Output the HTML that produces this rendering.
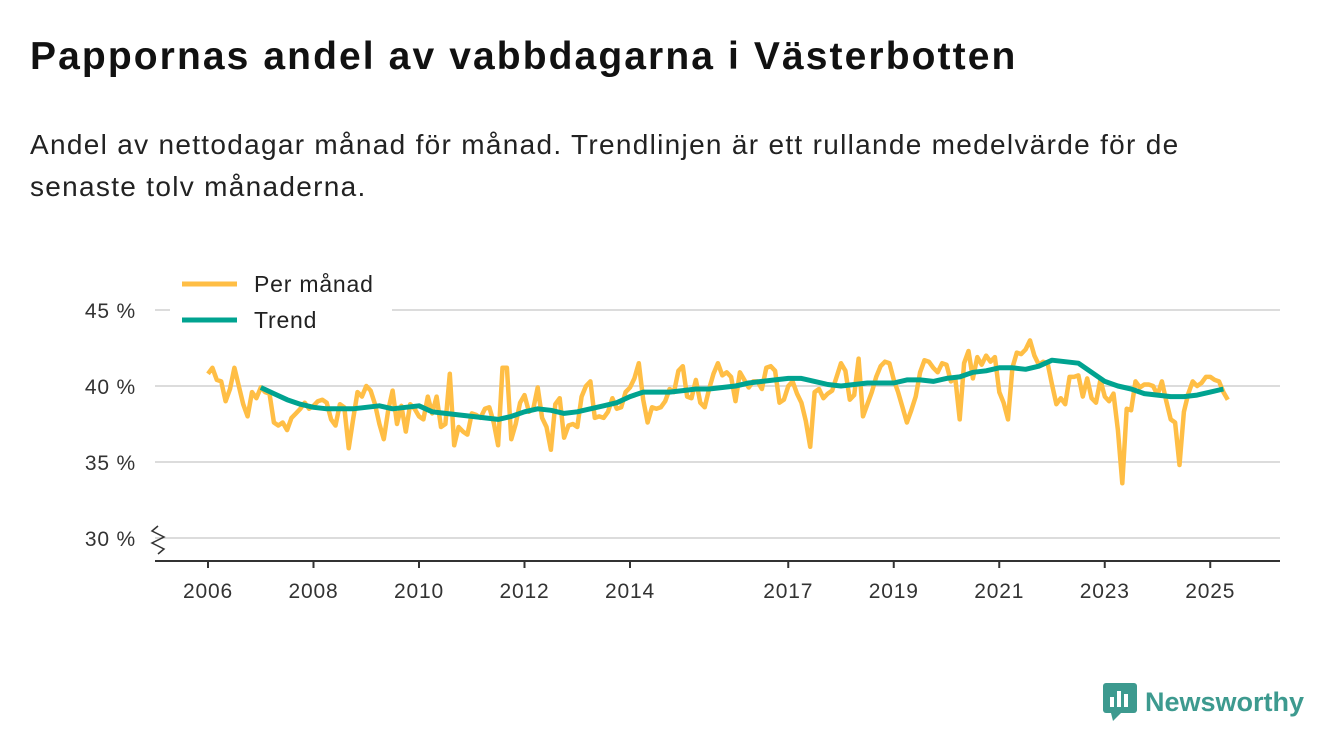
<!DOCTYPE html>
<html><head><meta charset="utf-8">
<style>
body{margin:0;width:1340px;height:753px;background:#fff;font-family:"Liberation Sans","DejaVu Sans",sans-serif;overflow:hidden;position:relative;color:#111}
h1{position:absolute;left:30px;top:35px;margin:0;font-size:39px;font-weight:bold;letter-spacing:2.1px;white-space:nowrap}
p.sub{position:absolute;left:30px;top:124px;margin:0;font-size:28px;line-height:42px;color:#222;width:1250px;letter-spacing:1.3px}
svg{position:absolute;left:0;top:0}
</style></head><body>
<h1>Pappornas andel av vabbdagarna i Västerbotten</h1>
<p class="sub">Andel av nettodagar månad för månad. Trendlinjen är ett rullande medelvärde för de senaste tolv månaderna.</p>
<svg id="chart" width="1340" height="753"></svg>
<div style="position:absolute;left:1103px;top:683px;display:flex;align-items:center">
<svg width="34" height="38" style="position:static"><rect x="0" y="0" width="34" height="30" rx="3" fill="#3d9a8f"/><polygon points="8,30 18,30 10,38" fill="#3d9a8f"/><rect x="7" y="14" width="4" height="10" fill="#fff"/><rect x="14" y="8" width="4" height="16" fill="#fff"/><rect x="21" y="11" width="4" height="13" fill="#fff"/></svg>
<span style="font-size:27px;font-weight:bold;color:#3d9a8f;margin-left:8px">Newsworthy</span></div>
<script>
const monthly=[
40.8,41.2,40.4,40.3,39.0,39.8,41.2,40.0,38.8,38.0,39.6,39.2,
39.9,39.6,39.5,37.6,37.4,37.6,37.1,37.9,38.2,38.5,38.9,38.5,
38.7,39.0,39.1,38.9,37.8,37.4,38.8,38.6,35.9,37.8,39.6,39.3,
40.0,39.7,38.8,37.5,36.5,38.4,39.7,37.5,38.7,37.0,38.8,38.5,
38.0,37.8,39.3,38.2,39.3,37.3,37.5,40.8,36.1,37.3,37.0,36.8,
38.2,38.1,37.9,38.5,38.6,37.6,36.1,41.2,41.2,36.5,37.5,38.9,
39.4,38.3,38.5,39.9,37.9,37.3,35.8,38.8,39.2,36.6,37.4,37.5,
37.3,39.3,40.0,40.3,37.9,38.0,37.9,38.3,39.2,38.5,38.6,39.6,
39.9,40.5,41.5,39.1,37.6,38.6,38.5,38.6,39.0,39.8,39.6,41.0,
41.3,39.3,39.2,40.4,38.9,38.6,39.8,40.8,41.5,40.7,40.9,40.6,
39.0,40.9,40.4,39.9,40.3,40.3,39.8,41.2,41.3,41.0,38.9,39.1,
40.0,40.3,39.5,38.9,37.7,36.0,39.6,39.8,39.2,39.5,39.7,40.6,
41.5,41.0,39.1,39.4,41.8,38.0,38.8,39.6,40.6,41.3,41.6,41.5,
40.4,39.6,38.6,37.6,38.4,39.3,40.9,41.7,41.6,41.2,40.9,41.5,
41.4,40.3,40.5,37.8,41.5,42.3,40.5,41.9,41.4,42.0,41.6,41.9,
39.6,38.9,37.8,41.2,42.2,42.1,42.4,43.0,42.0,41.4,41.6,41.5,
40.1,38.8,39.2,38.8,40.6,40.6,40.7,39.3,40.5,39.2,38.9,40.4,
39.3,39.0,39.5,37.1,33.6,38.5,38.4,40.3,39.9,40.1,40.1,40.0,
39.4,40.3,39.0,37.8,37.6,34.8,38.3,39.5,40.3,40.0,40.2,40.6,
40.6,40.4,40.3,39.6,39.1];
const trendStart=2007;
const trend=[39.9,39.5,39.1,38.8, 38.6,38.5,38.5,38.5, 38.6,38.7,38.5,38.6, 38.7,38.3,38.2,38.1,
38.0,37.9,37.8,38.0, 38.3,38.5,38.4,38.2, 38.3,38.5,38.7,38.9, 39.3,39.6,39.6,39.6,
39.7,39.8,39.8,39.9, 40.0,40.2,40.3,40.4, 40.5,40.5,40.3,40.1, 40.0,40.1,40.2,40.2,
40.2,40.4,40.4,40.3, 40.5,40.6,40.9,41.0, 41.2,41.2,41.1,41.3, 41.7,41.6,41.5,40.9,
40.3,40.0,39.8,39.5, 39.4,39.3,39.3,39.4, 39.6,39.8];
const yTicks=[30,35,40,45];
const xTicks=[2006,2008,2010,2012,2014,2017,2019,2021,2023,2025];
const NS='http://www.w3.org/2000/svg';
const svg=document.getElementById('chart');
const X=t=>208+(t-2006)*52.75;
const Y=v=>386-(v-40)*15.2;
function mk(tag,attrs){const e=document.createElementNS(NS,tag);for(const k in attrs)e.setAttribute(k,attrs[k]);svg.appendChild(e);return e;}
yTicks.forEach(v=>{
 const g=mk('line',{x1:155,x2:1280,y1:Y(v),y2:Y(v),stroke:'#dcdcdc','stroke-width':2});
 
 
 const t=mk('text',{x:136,y:Y(v)+8,'text-anchor':'end','font-size':21,fill:'#333','letter-spacing':'0.8','font-family':'Liberation Sans, sans-serif'});
 t.textContent=v+' %';
 
 
});
const ax=mk('line',{x1:155,x2:1280,y1:561,y2:561,stroke:'#333','stroke-width':2});


const zz=mk('polyline',{points:'158,526 152,531 164,537 152,543 164,549 158,554',fill:'none',stroke:'#333','stroke-width':1.5});


xTicks.forEach(yr=>{
 const l=mk('line',{x1:X(yr),x2:X(yr),y1:561,y2:568,stroke:'#333','stroke-width':2});
 
 
 const t=mk('text',{x:X(yr),y:598,'text-anchor':'middle','font-size':21,fill:'#333','letter-spacing':'0.8','font-family':'Liberation Sans, sans-serif'});
 t.textContent=yr;
 
 
});
const mp=monthly.map((v,i)=>X(2006+i/12).toFixed(1)+','+Y(v).toFixed(1)).join(' ');
const ml=mk('polyline',{points:mp,fill:'none',stroke:'#ffbe45','stroke-width':4.5,'stroke-linejoin':'round'});


const tp=trend.map((v,i)=>X(trendStart+i/4).toFixed(1)+','+Y(v).toFixed(1)).join(' ');
const tl=mk('polyline',{points:tp,fill:'none',stroke:'#00a390','stroke-width':5,'stroke-linejoin':'round'});


[['Per månad','#ffbe45',284,'legend-per-manad'],['Trend','#00a390',320,'legend-trend']].forEach(([lab,c,y,n])=>{
 const r=mk('rect',{x:170,y:y-18,width:222,height:34,fill:'#fff'});
 
 
 const l=mk('line',{x1:182,x2:237,y1:y,y2:y,stroke:c,'stroke-width':5});
 
 
 const t=mk('text',{x:254,y:y+8,'font-size':23,fill:'#222','letter-spacing':'0.8','font-family':'Liberation Sans, sans-serif'});
 t.textContent=lab;
 
 
});
</script>
</body></html>
